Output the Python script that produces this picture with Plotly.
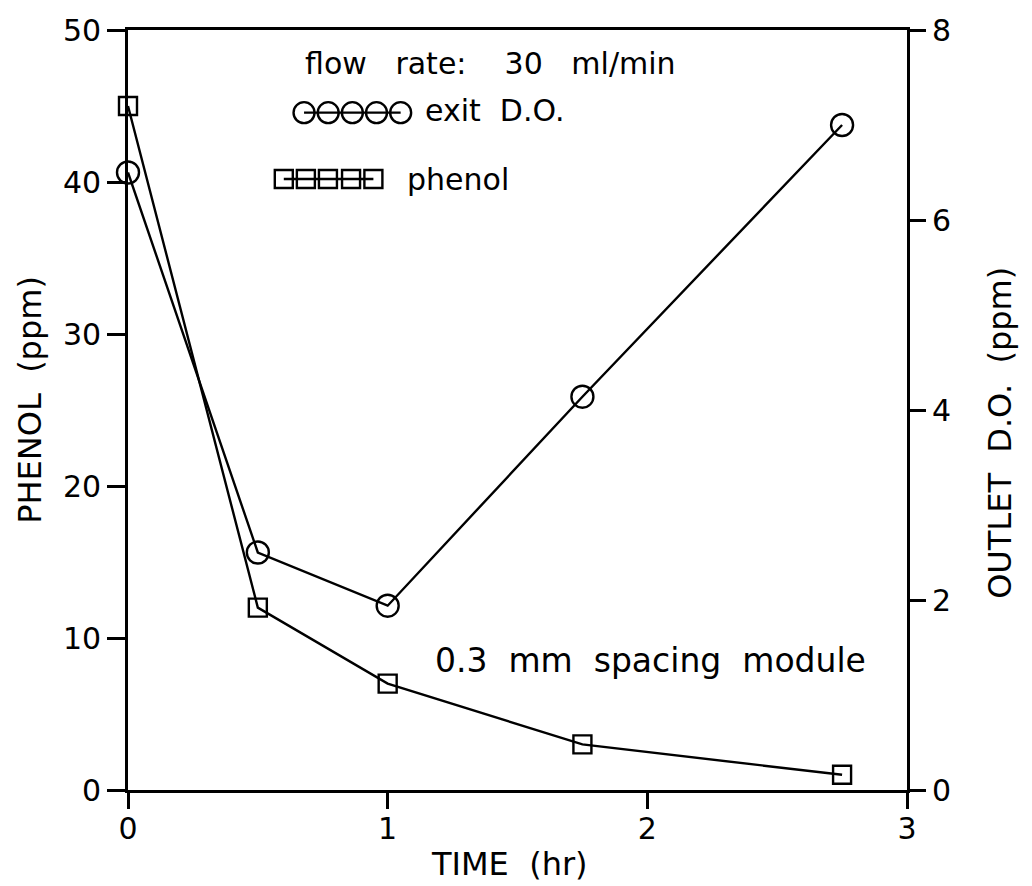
import plotly.graph_objects as go

# ---- data ----
time_hr = [0, 0.5, 1, 1.75, 2.75]
phenol_ppm = [45.0, 12.0, 7.0, 3.0, 1.0]
exit_do_ppm = [6.5, 2.5, 1.94, 4.14, 7.0]

x_ticks = [0, 1, 2, 3]
phenol_ticks = [0, 10, 20, 30, 40, 50]
do_ticks = [0, 2, 4, 6, 8]

# legend swatch positions (in-plot legend drawn as repeated markers)
legend_do_x = [0.678, 0.771, 0.864, 0.957, 1.050]
legend_do_y = [7.13] * 5
legend_ph_x = [0.600, 0.685, 0.770, 0.859, 0.945]
legend_ph_y = [40.2] * 5

FONT = "DejaVu Sans"
BLACK = "#000000"

fig = go.Figure()

fig.add_trace(go.Scatter(
    x=time_hr, y=phenol_ppm, mode="lines+markers",
    line=dict(color=BLACK, width=2.4),
    marker=dict(symbol="square-open", size=18, color=BLACK, line=dict(width=2.4, color=BLACK)),
    showlegend=False, yaxis="y", cliponaxis=False))

fig.add_trace(go.Scatter(
    x=time_hr, y=exit_do_ppm, mode="lines+markers",
    line=dict(color=BLACK, width=2.4),
    marker=dict(symbol="circle-open", size=22, color=BLACK, line=dict(width=2.4, color=BLACK)),
    showlegend=False, yaxis="y2", cliponaxis=False))

# legend swatches
fig.add_trace(go.Scatter(
    x=legend_do_x, y=legend_do_y, mode="lines+markers",
    line=dict(color=BLACK, width=2.4),
    marker=dict(symbol="circle-open", size=21, color=BLACK, line=dict(width=2.4, color=BLACK)),
    showlegend=False, yaxis="y2"))
fig.add_trace(go.Scatter(
    x=legend_ph_x, y=legend_ph_y, mode="lines+markers",
    line=dict(color=BLACK, width=2.4),
    marker=dict(symbol="square-open", size=18, color=BLACK, line=dict(width=2.4, color=BLACK)),
    showlegend=False, yaxis="y"))

axis_common = dict(
    showgrid=False, zeroline=False, showline=True, linecolor=BLACK, linewidth=2.8,
    ticks="outside", tickcolor=BLACK, tickwidth=2.5, automargin=False,
    tickfont=dict(family=FONT, size=30, color=BLACK),
)

fig.update_layout(
    width=1024, height=878,
    showlegend=False,
    margin=dict(l=120, r=125, t=22, b=96, pad=0),
    paper_bgcolor="white", plot_bgcolor="white",
    xaxis=dict(range=[0, 3], tickvals=x_ticks, ticktext=[str(v) for v in x_ticks],
               ticklen=16, mirror=True, ticklabelstandoff=-6, **axis_common),
    yaxis=dict(range=[0, 50], tickvals=phenol_ticks, ticktext=[str(v) for v in phenol_ticks],
               ticklen=18, **axis_common),
    yaxis2=dict(range=[0, 8], tickvals=do_ticks, ticktext=[str(v) for v in do_ticks],
                overlaying="y", side="right", ticklen=16, **axis_common),
    annotations=[
        dict(text="flow   rate:    30   ml/min", x=0.2247, y=0.956, xref="paper", yref="paper",
             xanchor="left", yanchor="middle", showarrow=False,
             font=dict(family=FONT, size=30, color=BLACK)),
        dict(text="exit  D.O.", x=0.3787, y=0.894, xref="paper", yref="paper",
             xanchor="left", yanchor="middle", showarrow=False,
             font=dict(family=FONT, size=30, color=BLACK)),
        dict(text="phenol", x=0.3556, y=0.803, xref="paper", yref="paper",
             xanchor="left", yanchor="middle", showarrow=False,
             font=dict(family=FONT, size=30, color=BLACK)),
        dict(text="0.3  mm  spacing  module", x=0.3915, y=0.170, xref="paper", yref="paper",
             xanchor="left", yanchor="middle", showarrow=False,
             font=dict(family=FONT, size=33, color=BLACK)),
        dict(text="PHENOL  (ppm)", x=-0.1258, y=0.5135, xref="paper", yref="paper",
             xanchor="center", yanchor="middle", textangle=-90, showarrow=False,
             font=dict(family=FONT, size=32, color=BLACK)),
        dict(text="OUTLET  D.O.  (ppm)", x=1.1194, y=0.470, xref="paper", yref="paper",
             xanchor="center", yanchor="middle", textangle=-90, showarrow=False,
             font=dict(family=FONT, size=32, color=BLACK)),
        dict(text="TIME  (hr)", x=0.490, y=-0.0974, xref="paper", yref="paper",
             xanchor="center", yanchor="middle", showarrow=False,
             font=dict(family=FONT, size=32, color=BLACK)),
    ],
)

fig.write_html("out.html")
